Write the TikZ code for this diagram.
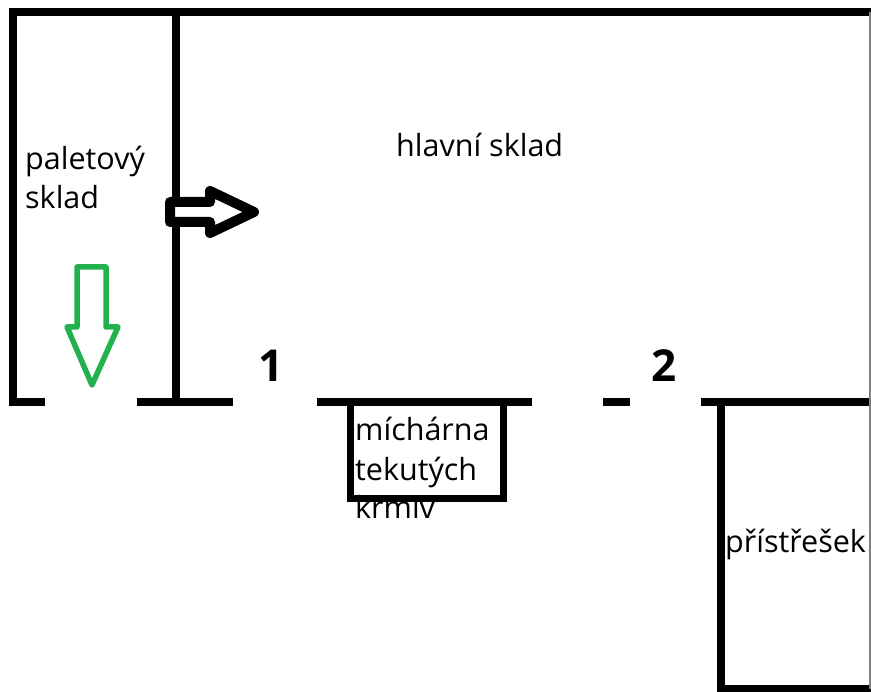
\documentclass[tikz,border=0pt]{standalone}
\usepackage{fontspec}
\setmainfont{Open Sans}
\usetikzlibrary{positioning}

\definecolor{paintgreen}{RGB}{34,177,76}

\begin{document}
\begin{tikzpicture}[
    x=1pt, y=-1pt,
    wall/.style={line width=8pt, line join=miter},
    thinwall/.style={line width=7pt, line join=miter},
    roomlabel/.style={font=\fontsize{30.5}{39}\selectfont, inner sep=0pt, align=left, anchor=base west},
    doorno/.style={font=\fontsize{44}{48}\selectfont\bfseries, inner sep=0pt, anchor=base west},
    flowarrow/.style={line width=10pt, line join=round, fill=white},
    exitarrow/.style={line width=5.5pt, draw=paintgreen, line join=round, fill=white},
    ]
    \useasboundingbox (0,0) rectangle (871,692);

    % outer walls of the main hall and the pallet store
    \draw[wall] (45,402) -- (13,402) -- (13,12) -- (875,12);
    \draw[wall] (176,12) -- (176,402);
    \draw[wall] (137,402) -- (233,402);
    \draw[wall] (317,402) -- (532,402);
    \draw[wall] (603,402) -- (630,402);
    \draw[wall] (701,402) -- (875,402);

    % mixing room
    \draw[thinwall] (350,402) -- (350,499) -- (503,499) -- (503,402);

    % shelter
    \draw[wall] (721,402) -- (721,689) -- (875,689);
    \draw[gray, line width=1.5pt] (870,12) -- (870,689);

    % arrows
    \draw[flowarrow] (170,202) -- (210,202) -- (210,191) -- (254,212)
        -- (210,233) -- (210,222) -- (170,222) -- cycle;
    \draw[exitarrow] (77,267) -- (106,267) -- (106,327) -- (118,327)
        -- (92,385) -- (67,327) -- (77,327) -- cycle;

    % labels (base = last line)
    \node[roomlabel] (pal) at (25,209) {paletový\\sklad};
    \node[roomlabel] (hlavni) at (396,157) {hlavní sklad};
    \node[roomlabel] (mich) at (355,519) {míchárna\\tekutých\\krmiv};
    \node[roomlabel] (pristr) at (725,553) {přístřešek};
    \node[doorno] (d1) at (258,382) {1};
    \node[doorno] (d2) at (651,382) {2};
\end{tikzpicture}
\end{document}
